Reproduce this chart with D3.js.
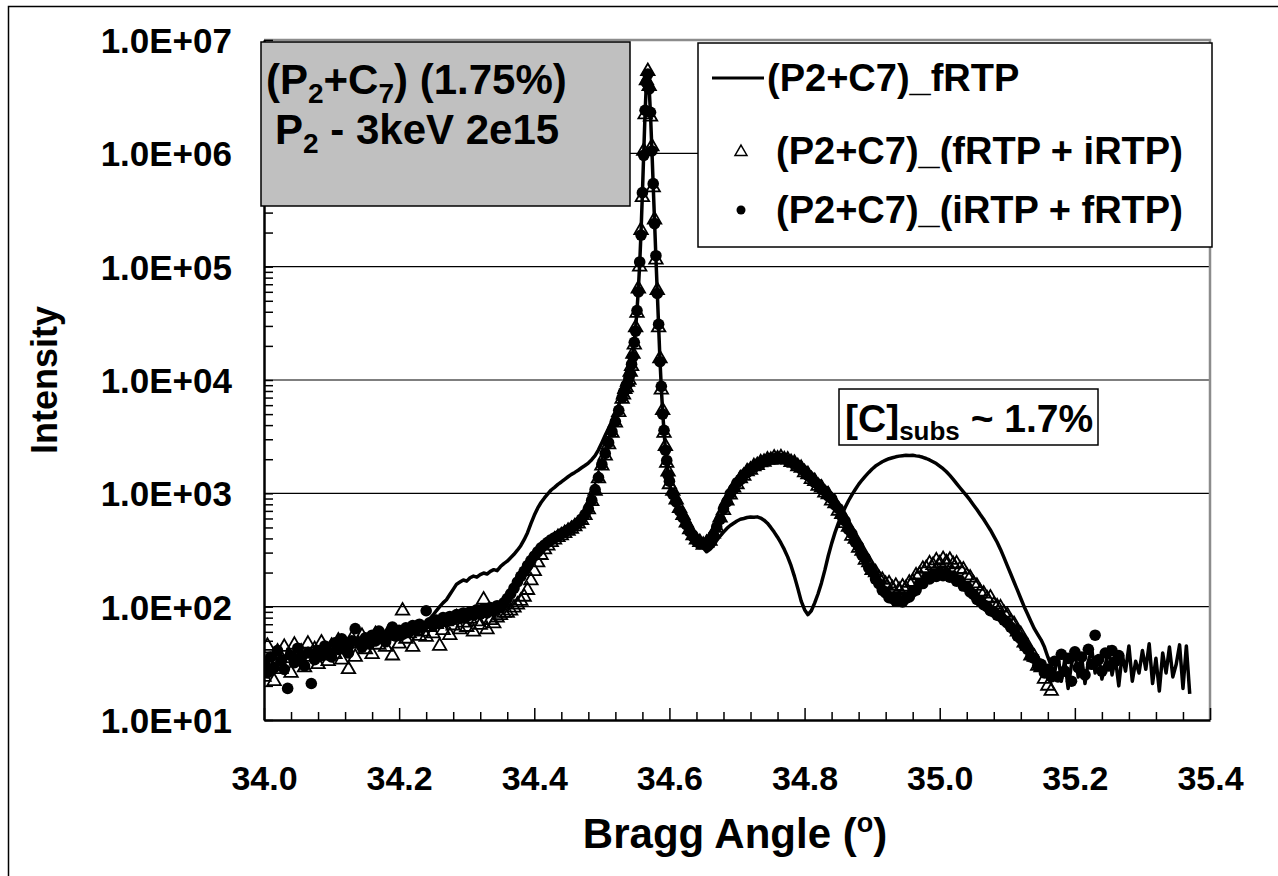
<!DOCTYPE html>
<html>
<head>
<meta charset="utf-8">
<script src="https://cdn.jsdelivr.net/npm/d3@7"></script>
<style>
body { margin: 0; background: #fff; }
text { font-family: "Liberation Sans", Arial, sans-serif; font-weight: bold; fill: #000; }
</style>
</head>
<body>
<svg id="chart" width="1278" height="876"></svg>
<script>
// Bragg angles (deg): coarse scan, fine steps across the substrate peak, coarse again
const angleLow = [
  34.000,34.005,34.010,34.015,34.020,34.025,34.030,34.035,34.040,34.045,
  34.050,34.055,34.060,34.065,34.070,34.075,34.080,34.085,34.090,34.095,
  34.100,34.105,34.110,34.115,34.120,34.125,34.130,34.135,34.140,34.145,
  34.150,34.155,34.160,34.165,34.170,34.175,34.180,34.185,34.190,34.195,
  34.200,34.205,34.210,34.215,34.220,34.225,34.230,34.235,34.240,34.245,
  34.250,34.255,34.260,34.265,34.270,34.275,34.280,34.285,34.290,34.295,
  34.300,34.305,34.310,34.315,34.320,34.325,34.330,34.335,34.340,34.345,
  34.350,34.355,34.360,34.365,34.370,34.375,34.380,34.385,34.390,34.395,
  34.400,34.405,34.410,34.415,34.420,34.425,34.430,34.435,34.440,34.445,
  34.450,34.455,34.460,34.465,34.470,34.475,34.480,34.485,34.490,34.495,
  34.500,34.505,34.510,34.515,34.520,34.525,34.530];
const anglePeak = [
  34.532,34.534,34.536,34.538,34.540,34.542,34.544,34.546,34.548,34.550,
  34.552,34.554,34.556,34.558,34.560,34.562,34.564,34.566,34.568,34.570,
  34.572,34.574,34.576,34.578,34.580,34.582,34.584,34.586,34.588,34.590,
  34.592,34.594,34.596,34.598,34.600];
const angleHigh = [
  34.605,34.610,34.615,34.620,34.625,34.630,34.635,34.640,34.645,34.650,
  34.655,34.660,34.665,34.670,34.675,34.680,34.685,34.690,34.695,34.700,
  34.705,34.710,34.715,34.720,34.725,34.730,34.735,34.740,34.745,34.750,
  34.755,34.760,34.765,34.770,34.775,34.780,34.785,34.790,34.795,34.800,
  34.805,34.810,34.815,34.820,34.825,34.830,34.835,34.840,34.845,34.850,
  34.855,34.860,34.865,34.870,34.875,34.880,34.885,34.890,34.895,34.900,
  34.905,34.910,34.915,34.920,34.925,34.930,34.935,34.940,34.945,34.950,
  34.955,34.960,34.965,34.970,34.975,34.980,34.985,34.990,34.995,35.000,
  35.005,35.010,35.015,35.020,35.025,35.030,35.035,35.040,35.045,35.050,
  35.055,35.060,35.065,35.070,35.075,35.080,35.085,35.090,35.095,35.100,
  35.105,35.110,35.115,35.120,35.125,35.130,35.135,35.140,35.145,35.150,
  35.155,35.160,35.165,35.170,35.175,35.180,35.185,35.190,35.195,35.200,
  35.205,35.210,35.215,35.220,35.225,35.230,35.235,35.240,35.245,35.250,
  35.255,35.260,35.265,35.270,35.275,35.280,35.285,35.290,35.295,35.300,
  35.305,35.310,35.315,35.320,35.325,35.330,35.335,35.340,35.345,35.350,
  35.355,35.360,35.365,35.370];

// (P2+C7)_fRTP  -- solid line
const fRTPLow = [
  28,36,25,40,33,38,30,42,35,39,
  33,41,37,43,36,44,39,42,38,46,
  41,45,40,47,44,48,43,50,46,49,
  47,52,49,54,51,55,52,57,54,59,
  56,60,58,63,61,66,64,70,72,78,
  84,92,100,108,115,128,142,158,165,172,
  168,180,186,182,192,198,194,205,212,208,
  226,240,252,270,290,315,345,390,450,540,
  640,740,830,910,990,1070,1130,1200,1260,1330,
  1400,1470,1530,1600,1680,1760,1850,1980,2150,2420,
  2800,3250,3750,4350,5100,6000,7600];
const fRTPPeak = [
  8800,9800,10400,11000,11800,12800,14500,17500,22000,29000,
  41000,63000,106000,205000,440000,1020000,2300000,4300000,5100000,3800000,
  2200000,1100000,520000,250000,120000,60000,30000,15000,8500,5200,
  3500,2500,1900,1500,1200];
const fRTPHigh = [
  950,800,680,580,500,440,395,365,345,330,
  305,320,345,385,420,455,490,520,545,570,
  590,600,612,618,614,620,605,580,545,500,
  455,410,365,320,275,230,185,145,112,94,
  85,92,108,130,162,210,280,360,450,545,
  645,750,860,970,1080,1200,1310,1420,1530,1640,
  1740,1820,1900,1960,2020,2060,2100,2130,2150,2170,
  2160,2170,2140,2120,2080,2030,1970,1900,1830,1740,
  1650,1550,1440,1330,1220,1120,1030,950,870,790,
  720,650,590,530,475,420,370,320,272,230,
  195,165,140,118,100,86,74,64,57,51,
  44,36,30,26,38,22,34,19,31,40,
  24,36,21,33,42,26,37,23,30,44,
  25,35,20,38,27,45,22,33,26,41,
  28,47,21,35,18,39,26,44,24,31,
  46,19,45,17];

// (P2+C7)_(fRTP + iRTP)  -- open triangles
const fiRTPLow = [
  24,45,30,22,40,28,44,35,26,46,
  33,40,29,47,36,42,31,48,37,33,
  45,38,50,34,44,28,52,36,47,55,
  42,49,38,57,46,52,44,60,37,55,
  47,92,52,58,44,62,55,60,54,66,
  58,70,45,62,74,56,68,80,63,72,
  66,78,60,74,69,115,63,76,71,80,
  84,88,88,92,98,104,112,122,140,170,
  205,245,285,320,345,370,390,410,425,445,
  465,485,510,540,580,640,720,850,1050,1350,
  1750,2150,2700,3400,4200,5200,6800];
const fiRTPPeak = [
  7400,8300,8600,9600,10000,11800,13200,17000,20500,29000,
  39000,64000,100000,210000,410000,1050000,2200000,4400000,5300000,3900000,
  2100000,1150000,500000,260000,115000,62000,29000,15500,8200,5400,
  3400,2600,1850,1550,1200];
const fiRTPHigh = [
  1050,880,740,640,550,480,425,390,370,350,
  365,380,440,495,610,710,860,970,1120,1200,
  1350,1420,1560,1610,1730,1770,1870,1890,1980,1970,
  2060,2020,2070,1990,1980,1880,1850,1730,1670,1530,
  1470,1330,1280,1160,1120,1010,975,860,815,700,
  655,545,505,420,395,330,310,258,245,210,
  200,178,172,158,160,145,152,140,150,145,
  162,165,188,192,215,218,240,232,255,240,
  262,245,258,236,240,215,212,188,180,160,
  152,135,130,118,120,104,100,98,88,84,
  74,70,60,57,48,45,37,36,30,29,
  23,20,18];

// (P2+C7)_(iRTP + fRTP)  -- filled circles
const ifRTPLow = [
  30,26,36,29,41,33,28,19,37,32,
  43,35,30,39,21,34,41,37,45,40,
  36,48,42,52,45,39,50,64,48,44,
  53,47,56,50,61,54,49,58,66,55,
  62,57,65,60,68,63,70,66,92,72,
  68,76,71,80,74,82,77,85,79,88,
  82,90,84,94,86,96,88,98,92,102,
  98,108,118,130,146,165,185,205,230,255,
  280,305,330,350,370,390,405,420,440,455,
  475,495,520,550,590,650,730,870,1080,1380,
  1800,2250,2800,3500,4300,5400,7000];
const ifRTPPeak = [
  7800,8100,9000,9200,10400,11300,13800,16000,21500,27000,
  41000,60000,110000,190000,450000,960000,2400000,4200000,5000000,3700000,
  2300000,1050000,540000,240000,125000,58000,31000,14500,8800,5000,
  3600,2400,1950,1450,1280];
const ifRTPHigh = [
  980,840,700,610,530,460,415,380,360,360,
  355,390,425,505,590,730,840,990,1090,1240,
  1320,1460,1530,1650,1700,1810,1840,1930,1950,2030,
  2010,2080,2020,2030,1950,1920,1810,1770,1640,1570,
  1440,1370,1250,1200,1090,1050,950,900,790,735,
  630,570,480,440,370,340,285,265,220,205,
  175,160,140,132,120,118,112,114,110,118,
  122,135,140,158,160,178,176,192,185,200,
  188,198,182,186,168,170,152,150,135,128,
  116,112,104,100,92,90,84,82,76,72,
  66,62,55,52,45,42,36,35,30,31,
  26,28,24,33,24,38,27,35,22,40,
  29,36,25,42,31,56,34,27,39,30,
  41,33,37];

const xTicks = [34.0, 34.2, 34.4, 34.6, 34.8, 35.0, 35.2, 35.4];
const yDecades = [1e1, 1e2, 1e3, 1e4, 1e5, 1e6, 1e7];
const legendLabels = ["(P2+C7)_fRTP", "(P2+C7)_(fRTP + iRTP)", "(P2+C7)_(iRTP + fRTP)"];

const W = 1278, H = 876;
const plot = {left: 264, right: 1210, top: 40, bottom: 720};

const angles = angleLow.concat(anglePeak, angleHigh);
function buildSeries(a, b, c) {
    const v = a.concat(b, c);
    return angles.map((t, i) => ({x: t, v: v[i]})).filter(d => d.v != null);
}
const lineData = buildSeries(fRTPLow, fRTPPeak, fRTPHigh);
const triData = buildSeries(fiRTPLow, fiRTPPeak, fiRTPHigh);
const dotData = buildSeries(ifRTPLow, ifRTPPeak, ifRTPHigh);

const svg = d3.select("#chart");
svg.append("rect").attr("width", W).attr("height", H).attr("fill", "#fff");
// outer chart frame (only left/top edges fall inside the picture)
svg.append("rect")
    .attr("x", 8.5).attr("y", 6.5).attr("width", 1300).attr("height", 900)
    .attr("fill", "none").attr("stroke", "#000").attr("stroke-width", 1.5);

let x = d3.scaleLinear().domain([34, 35.4]).range([plot.left, plot.right]);
let y = d3.scaleLog().domain([10, 1e7]).range([plot.bottom, plot.top]);

// gridlines
svg.append("g").selectAll("line")
    .data(yDecades.slice(1, -1))
    .enter().append("line")
    .attr("x1", plot.left).attr("x2", plot.right)
    .attr("y1", d => y(d)).attr("y2", d => y(d))
    .attr("stroke", "#000").attr("stroke-width", 1.2);

// plot border top/right (grey)
svg.append("path")
    .attr("d", `M${plot.left},${y(1e7)}H${plot.right}V${plot.bottom}`)
    .attr("fill", "none").attr("stroke", "#8c8c8c").attr("stroke-width", 2.5);

// y axis with log minor ticks inside
let yTickVals = [];
yDecades.forEach((d, i) => {
    if (i < yDecades.length - 1) for (let k = 1; k < 10; k++) yTickVals.push(d * k);
    else yTickVals.push(d);
});
const yFmt = d => {
    const e = Math.round(Math.log10(d));
    return Math.abs(d - Math.pow(10, e)) < 1e-6 * d ? "1.0E+" + String(e).padStart(2, "0") : "";
};
let yAxis = svg.append("g")
    .attr("transform", `translate(${plot.left},0)`)
    .call(d3.axisLeft(y).tickValues(yTickVals).tickSizeInner(-9).tickSizeOuter(0)
        .tickPadding(32).tickFormat(yFmt));
yAxis.select(".domain").attr("stroke", "#000").attr("stroke-width", 2.5);
yAxis.selectAll(".tick line").attr("stroke", "#000").attr("stroke-width", 1.5);
yAxis.selectAll("text").style("font-size", "35px").attr("dy", "0.36em");

// x axis, ticks pointing up into the plot
let xMinor = [];
for (let i = 0; i < xTicks.length - 1; i++)
    for (let k = 1; k < 5; k++) xMinor.push(xTicks[i] + (xTicks[i + 1] - xTicks[i]) * k / 5);
let xAxisMinor = svg.append("g")
    .attr("transform", `translate(0,${plot.bottom})`)
    .call(d3.axisBottom(x).tickValues(xMinor).tickSizeInner(-8).tickSizeOuter(0).tickFormat(""));
xAxisMinor.select(".domain").remove();
xAxisMinor.selectAll(".tick line").attr("stroke", "#000").attr("stroke-width", 1.5);

let xAxis = svg.append("g")
    .attr("transform", `translate(0,${plot.bottom})`)
    .call(d3.axisBottom(x).tickValues(xTicks).tickSizeInner(-12).tickSizeOuter(0)
        .tickPadding(70).tickFormat(d3.format(".1f")));
xAxis.select(".domain").attr("stroke", "#000").attr("stroke-width", 2.5);
xAxis.selectAll(".tick line").attr("stroke", "#000").attr("stroke-width", 1.5);
xAxis.selectAll("text").style("font-size", "34px").attr("dy", "0");

// data
svg.append("clipPath").attr("id", "clip")
    .append("rect").attr("x", plot.left).attr("y", plot.top)
    .attr("width", plot.right - plot.left).attr("height", plot.bottom - plot.top);
let dataG = svg.append("g").attr("clip-path", "url(#clip)");

dataG.append("path")
    .datum(lineData)
    .attr("d", d3.line().x(d => x(d.x)).y(d => y(d.v)))
    .attr("fill", "none").attr("stroke", "#000").attr("stroke-width", 3.5)
    .attr("stroke-linejoin", "round");

const tri = d3.symbol().type(d3.symbolTriangle).size(78);
dataG.append("g").selectAll("path")
    .data(triData)
    .enter().append("path")
    .attr("d", tri)
    .attr("transform", d => `translate(${x(d.x)},${y(d.v)})`)
    .attr("fill", "none").attr("stroke", "#000").attr("stroke-width", 1.8);

dataG.append("g").selectAll("circle")
    .data(dotData)
    .enter().append("circle")
    .attr("cx", d => x(d.x)).attr("cy", d => y(d.v)).attr("r", 5.8)
    .attr("fill", "#000");

// annotation box (grey)
svg.append("rect")
    .attr("x", 261).attr("y", 42).attr("width", 369).attr("height", 164)
    .attr("fill", "#c0c0c0").attr("stroke", "#000").attr("stroke-width", 1.5);
let a1 = svg.append("text").attr("x", 266).attr("y", 94).style("font-size", "42px");
a1.append("tspan").text("(P");
a1.append("tspan").attr("dy", 9).style("font-size", "28px").text("2");
a1.append("tspan").attr("dy", -9).text("+C");
a1.append("tspan").attr("dy", 9).style("font-size", "28px").text("7");
a1.append("tspan").attr("dy", -9).text(") (1.75%)");
let a2 = svg.append("text").attr("x", 275).attr("y", 144).style("font-size", "42px");
a2.append("tspan").text("P");
a2.append("tspan").attr("dy", 9).style("font-size", "28px").text("2");
a2.append("tspan").attr("dy", -9).text(" - 3keV 2e15");

// [C]subs box
svg.append("rect")
    .attr("x", 839).attr("y", 389).attr("width", 259).attr("height", 56)
    .attr("fill", "#fff").attr("stroke", "#000").attr("stroke-width", 1.5);
let c1 = svg.append("text").attr("x", 845).attr("y", 432).style("font-size", "39px");
c1.append("tspan").text("[C]");
c1.append("tspan").attr("dy", 8).style("font-size", "26px").text("subs");
c1.append("tspan").attr("dy", -8).text(" ~ 1.7%");

// legend
svg.append("rect")
    .attr("x", 698).attr("y", 43).attr("width", 514).attr("height", 204)
    .attr("fill", "#fff").attr("stroke", "#000").attr("stroke-width", 1.5);
svg.append("line")
    .attr("x1", 712).attr("x2", 764).attr("y1", 78).attr("y2", 78)
    .attr("stroke", "#000").attr("stroke-width", 3);
svg.append("path").attr("d", d3.symbol().type(d3.symbolTriangle).size(62))
    .attr("transform", "translate(741,152)")
    .attr("fill", "none").attr("stroke", "#000").attr("stroke-width", 1.5);
svg.append("circle").attr("cx", 741).attr("cy", 210).attr("r", 4.5).attr("fill", "#000");
svg.selectAll(".legtext")
    .data(legendLabels)
    .enter().append("text")
    .attr("class", "legtext")
    .attr("x", (d, i) => i === 0 ? 767 : 776)
    .attr("y", (d, i) => [91, 164, 223][i])
    .style("font-size", "38px")
    .text(d => d);

// axis titles
svg.append("text")
    .attr("transform", "translate(57,380) rotate(-90)")
    .style("text-anchor", "middle")
    .style("font-size", "36px")
    .text("Intensity");
let xt = svg.append("text")
    .attr("x", 735).attr("y", 848)
    .style("text-anchor", "middle")
    .style("font-size", "42px");
xt.append("tspan").text("Bragg Angle (");
xt.append("tspan").attr("dy", -16).style("font-size", "27px").text("o");
xt.append("tspan").attr("dy", 16).text(")");
</script>
</body>
</html>
